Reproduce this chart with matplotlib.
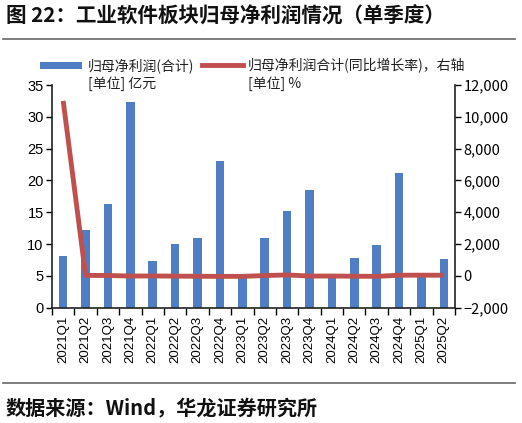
import matplotlib
matplotlib.use("Agg")
import matplotlib.pyplot as plt
import numpy as np
from matplotlib.lines import Line2D
from matplotlib.patches import Rectangle

plt.rcParams['font.family'] = ['Noto Sans CJK SC', 'DejaVu Sans']

quarters = ["2021Q1", "2021Q2", "2021Q3", "2021Q4", "2022Q1", "2022Q2", "2022Q3", "2022Q4",
            "2023Q1", "2023Q2", "2023Q3", "2023Q4", "2024Q1", "2024Q2", "2024Q3", "2024Q4",
            "2025Q1", "2025Q2"]
profit = [8.2, 12.25, 16.3, 32.4, 7.4, 10.0, 11.0, 23.1, 4.9, 11.0, 15.25, 18.5, 5.2, 7.8,
          9.85, 21.1, 5.4, 7.7]
growth = [11000, 30, 25, -10, -5, -15, -25, -30, -30, 20, 60, -10, -10, -20, -30, 40, 45, 40]

left_ticks = [0, 5, 10, 15, 20, 25, 30, 35]
right_ticks = [-2000, 0, 2000, 4000, 6000, 8000, 10000, 12000]

bar_color = "#4F7EC4"
line_color = "#C0504D"

W, H = 522, 423
fig = plt.figure(figsize=(5.22, 4.23), dpi=100)
ax = fig.add_axes([52 / W, 1 - 307.7 / H, 403 / W, 222.7 / H])
x = np.arange(len(quarters))
ax.bar(x, profit, width=0.38, color=bar_color, zorder=2)
ax.set_xlim(-0.5, len(quarters) - 0.5)
ax.set_ylim(0, 35)
ax.set_yticks(left_ticks)
ax.set_yticklabels([str(v) for v in left_ticks], fontsize=10.5, family='Liberation Sans')
ax.set_xticks(x)
ax.set_xticklabels(quarters, rotation=90, fontsize=9.5, family='Liberation Sans')
ax.tick_params(axis='x', length=0, pad=6)
ax.set_xticks(np.arange(-0.5, len(quarters), 1), minor=True)
ax.tick_params(axis='x', which='minor', length=5, width=1, direction='out')
ax.tick_params(axis='y', length=4, width=1, direction='out', pad=2)
ax.spines['top'].set_visible(False)
ax.spines['right'].set_visible(False)
for s in ['left', 'bottom']:
    ax.spines[s].set_linewidth(1.2)
    ax.spines[s].set_color('#222222')

ax2 = ax.twinx()
ax2.plot(x, growth, color=line_color, linewidth=3.5, zorder=3, solid_capstyle='butt')
ax2.set_ylim(-2000, 12000)
ax2.set_yticks(right_ticks)
ax2.set_yticklabels([f"{v:,}".replace("-", "−") for v in right_ticks], fontsize=10.5)
ax2.tick_params(axis='y', length=4, width=1, direction='out', pad=2)
ax2.spines['top'].set_visible(False)
ax2.spines['left'].set_visible(False)
ax2.spines['bottom'].set_visible(False)
ax2.spines['right'].set_linewidth(1.2)
ax2.spines['right'].set_color('#222222')

# Legend
fig.patches.append(Rectangle((40 / W, 1 - 69 / H), 42 / W, 7 / H, transform=fig.transFigure,
                             facecolor=bar_color, edgecolor='none', figure=fig))
fig.lines.append(Line2D([202 / W, 243 / W], [1 - 65.5 / H, 1 - 65.5 / H],
                        transform=fig.transFigure, color=line_color, linewidth=3.5, figure=fig))
fig.text(88 / W, 1 - 65.5 / H, "归母净利润(合计)", fontsize=10, va='center', ha='left', color='#222222')
fig.text(88 / W, 1 - 84 / H, "[单位] 亿元", fontsize=10, va='center', ha='left', color='#222222')
fig.text(248 / W, 1 - 65.5 / H, "归母净利润合计(同比增长率)，右轴", fontsize=10, va='center', ha='left', color='#222222')
fig.text(248 / W, 1 - 84 / H, "[单位] %", fontsize=10, va='center', ha='left', color='#222222')

# Title and footer
fig.text(6 / W, 1 - 16 / H, "图 22：工业软件板块归母净利润情况（单季度）", fontsize=14.8,
         fontweight='bold', va='center', ha='left', color='#111111')
fig.lines.append(Line2D([3 / W, 515 / W], [1 - 39 / H, 1 - 39 / H],
                        transform=fig.transFigure, color='#666666', linewidth=1.2, figure=fig))
fig.lines.append(Line2D([3 / W, 515 / W], [1 - 383 / H, 1 - 383 / H],
                        transform=fig.transFigure, color='#666666', linewidth=1.2, figure=fig))
fig.text(6 / W, 1 - 408 / H, "数据来源：Wind，华龙证券研究所", fontsize=14.5,
         fontweight='bold', va='center', ha='left', color='#111111')

fig.savefig("out.png", dpi=100)
